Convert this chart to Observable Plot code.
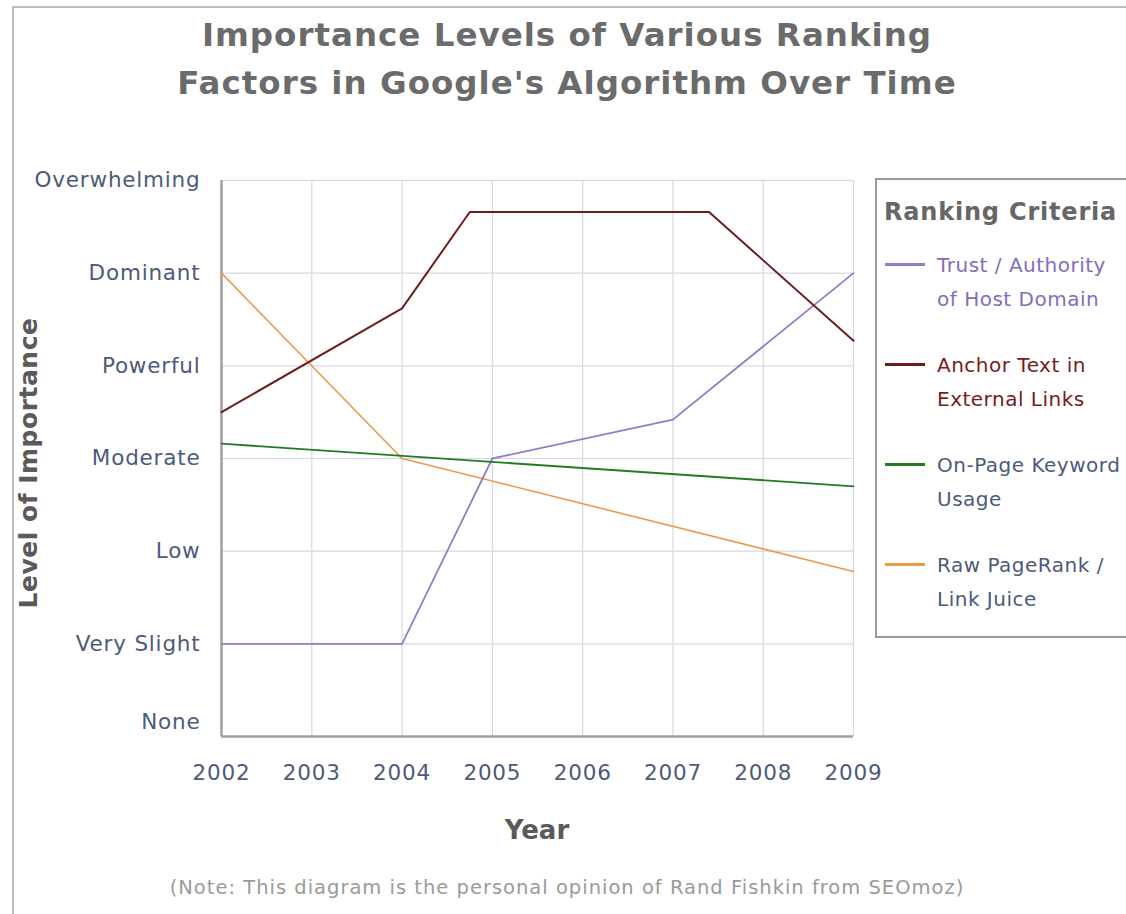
<!DOCTYPE html>
<html>
<head>
<meta charset="utf-8">
<script src="https://cdn.jsdelivr.net/npm/d3@7"></script>
<script src="https://cdn.jsdelivr.net/npm/@observablehq/plot@0.6"></script>
<style>
  html, body { margin: 0; padding: 0; background: #fff; }
  body { width: 1126px; height: 914px; position: relative; overflow: hidden; font-family: "DejaVu Sans", Verdana, sans-serif; }
  #frame { position: absolute; left: 12px; top: 6px; width: 1200px; height: 1000px; border-top: 2px solid #bdbdbd; border-left: 2px solid #bdbdbd; }
  #title { position: absolute; left: 0; width: 1134px; top: 11px; text-align: center; font-size: 32.5px; letter-spacing: 1px; line-height: 48px; font-weight: bold; color: #6b6b6b; }
  #chart { position: absolute; left: 0; top: 140px; }
  #ylabel { position: absolute; left: 28px; top: 463px; transform: translate(-50%, -50%) rotate(-90deg); white-space: nowrap; font-size: 25px; letter-spacing: 0.5px; font-weight: bold; color: #5a5a5a; }
  #xlabel { position: absolute; left: 537px; top: 830px; transform: translate(-50%, -50%); font-size: 26px; font-weight: bold; color: #5a5a5a; }
  #note { position: absolute; left: 567px; top: 887px; transform: translate(-50%, -50%); white-space: nowrap; font-size: 19.5px; letter-spacing: 1px; color: #9a9a9a; }
  #legend { position: absolute; left: 875px; top: 178px; width: 300px; height: 460px; border: 2px solid #9a9a9a; box-sizing: border-box; }
  #legend .lt { position: absolute; left: 7px; top: 18px; font-size: 24px; letter-spacing: 0.8px; font-weight: bold; color: #666; white-space: nowrap; }
  #legend .item { position: absolute; left: 8px; }
  #legend .sw { position: absolute; left: 0; top: 15px; width: 40px; height: 3px; }
  #legend .tx { position: absolute; left: 52px; top: 0; font-size: 20px; letter-spacing: 0.5px; line-height: 34px; white-space: nowrap; }
  #chart svg text { letter-spacing: 0.8px; }
</style>
</head>
<body>
<div id="frame"></div>
<div id="title">Importance Levels of Various Ranking<br>Factors in Google's Algorithm Over Time</div>
<div id="chart"></div>
<div id="ylabel">Level of Importance</div>
<div id="xlabel">Year</div>
<div id="note">(Note: This diagram is the personal opinion of Rand Fishkin from SEOmoz)</div>
<div id="legend"></div>
<script>
// ---- data ----
const years = [2002, 2003, 2004, 2005, 2006, 2007, 2008, 2009];
const levelLabels = ["None", "Very Slight", "Low", "Moderate", "Powerful", "Dominant", "Overwhelming"];

const seriesNames = ["Trust / Authority|of Host Domain", "Anchor Text in|External Links", "On-Page Keyword|Usage", "Raw PageRank /|Link Juice"];
const seriesColors = ["#8f7dca", "#6e1c1c", "#237a23", "#eb9a48"];
const legendTextColors = ["#7f6ec0", "#7a1a1a", "#4c5a7c", "#4c5a7c"];

const trustYears = [2002, 2004, 2005, 2007, 2009];
const trustValues = [1, 1, 3, 3.42, 5];
const anchorYears = [2002, 2004, 2004.75, 2007.4, 2009];
const anchorValues = [3.5, 4.62, 5.66, 5.66, 4.27];
const keywordYears = [2002, 2009];
const keywordValues = [3.16, 2.70];
const pagerankYears = [2002, 2004, 2009];
const pagerankValues = [5, 3, 1.78];

const toRows = (xs, vs) => xs.map((x, i) => ({year: x, value: vs[i]}));
const trust = toRows(trustYears, trustValues);
const anchor = toRows(anchorYears, anchorValues);
const keyword = toRows(keywordYears, keywordValues);
const pagerank = toRows(pagerankYears, pagerankValues);

const tickColor = "#4c5a7c";
const font = "'DejaVu Sans', Verdana, sans-serif";

const chart = Plot.plot({
  width: 870,
  height: 680,
  marginLeft: 221,
  marginRight: 17,
  marginTop: 40,
  marginBottom: 84,
  style: {fontFamily: font, background: "transparent", overflow: "visible"},
  x: {domain: [2002, 2009]},
  y: {domain: [0, 6]},
  marks: [
    Plot.gridX(years, {stroke: "#d6d9e4", strokeOpacity: 1, strokeWidth: 1.2}),
    Plot.gridY([1, 2, 3, 4, 5, 6], {stroke: "#d6d9e4", strokeOpacity: 1, strokeWidth: 1.2}),
    Plot.axisX(years, {tickSize: 0, tickPadding: 28, tickFormat: d => String(d), fontSize: 21.5, fill: tickColor, label: null}),
    Plot.axisY([1, 2, 3, 4, 5, 6], {tickSize: 0, tickPadding: 21, tickFormat: i => levelLabels[i], fontSize: 21.5, fill: tickColor, label: null}),
    Plot.axisY([0], {tickSize: 0, tickPadding: 21, dy: -14, tickFormat: i => levelLabels[i], fontSize: 21.5, fill: tickColor, label: null}),
    Plot.ruleX([2002], {stroke: "#a0a0a0", strokeWidth: 2.5}),
    Plot.ruleY([0], {stroke: "#a0a0a0", strokeWidth: 2.5}),
    Plot.line(pagerank, {x: "year", y: "value", stroke: seriesColors[3], strokeWidth: 1.6}),
    Plot.line(trust, {x: "year", y: "value", stroke: seriesColors[0], strokeWidth: 1.8}),
    Plot.line(keyword, {x: "year", y: "value", stroke: seriesColors[2], strokeWidth: 1.8}),
    Plot.line(anchor, {x: "year", y: "value", stroke: seriesColors[1], strokeWidth: 2})
  ]
});
document.getElementById("chart").appendChild(chart);

// legend
const legend = document.getElementById("legend");
const lt = document.createElement("div");
lt.className = "lt";
lt.textContent = "Ranking Criteria";
legend.appendChild(lt);
seriesNames.forEach((name, i) => {
  const item = document.createElement("div");
  item.className = "item";
  item.style.top = (68 + i * 100) + "px";
  const sw = document.createElement("div");
  sw.className = "sw";
  sw.style.background = seriesColors[i];
  const tx = document.createElement("div");
  tx.className = "tx";
  tx.style.color = legendTextColors[i];
  tx.innerHTML = name.split("|").join("<br>");
  item.appendChild(sw);
  item.appendChild(tx);
  legend.appendChild(item);
});
</script>
</body>
</html>
